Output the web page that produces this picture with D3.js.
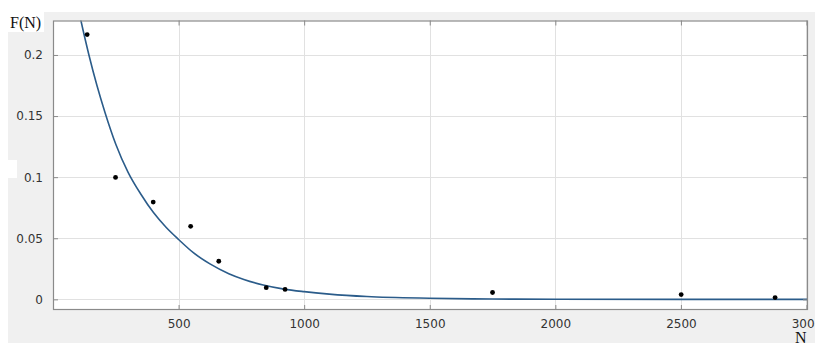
<!DOCTYPE html>
<html>
<head>
<meta charset="utf-8">
<script src="https://cdn.jsdelivr.net/npm/d3@7"></script>
<style>
	html, body { margin: 0; padding: 0; background: #fff; }
	svg { display: block; }
</style>
</head>
<body>
<div id="container"></div>
<script>
// measured points (N, F(N))
const pointN = [136, 249, 399, 548, 660, 849, 924, 1750, 2501, 2875];
const pointF = [0.2167, 0.0998, 0.0796, 0.0598, 0.0312, 0.0096, 0.0081, 0.0056, 0.0039, 0.0015];

// fitted curve
const curveN = [95, 120, 143, 175, 207, 250, 299, 350, 400, 450, 500, 560, 625, 700, 760, 837, 920, 1000, 1100, 1250, 1500, 1750, 2000, 2500, 3006];
const curveF = [0.243, 0.220, 0.200, 0.175, 0.153, 0.127, 0.104, 0.086, 0.071, 0.059, 0.049, 0.038, 0.029, 0.021, 0.0163, 0.0118, 0.0084, 0.0063, 0.0043, 0.0023, 0.0009, 0.0003, 0.0001, 0.0, 0.0];

const xTicks = [500, 1000, 1500, 2000, 2500, 3000];
const xTickLabels = ["500", "1000", "1500", "2000", "2500", "3000"];
const yTicks = [0, 0.05, 0.1, 0.15, 0.2];
const yTickLabels = ["0", "0.05", "0.1", "0.15", "0.2"];

class FitChart {
	constructor(width, height) {
		this.width = width;
		this.height = height;
		this.box = { left: 53, right: 808, top: 20.5, bottom: 310 };
	}

	init() {
		this.svg = d3
			.select("#container")
			.append("svg")
			.attr("width", this.width)
			.attr("height", this.height);

		// figure background
		this.svg
			.append("rect")
			.attr("x", 8)
			.attr("y", 12)
			.attr("width", this.width - 8)
			.attr("height", this.height - 12)
			.attr("fill", "#f0f0f0");

		// white patches from the scan
		this.svg.append("rect").attr("x", 8).attr("y", 12).attr("width", 36).attr("height", 20).attr("fill", "#fff");
		this.svg.append("rect").attr("x", 8).attr("y", 160).attr("width", 9).attr("height", 18).attr("fill", "#fff");

		this.x = d3.scaleLinear().domain([0, 3006]).range([this.box.left, this.box.right]);
		this.y = d3.scaleLinear().domain([-0.0087, 0.2282]).range([this.box.bottom, this.box.top]);

		this.svg
			.append("rect")
			.attr("x", this.box.left)
			.attr("y", this.box.top)
			.attr("width", this.box.right - this.box.left)
			.attr("height", this.box.bottom - this.box.top)
			.attr("fill", "#fff");

		this.svg
			.append("defs")
			.append("clipPath")
			.attr("id", "plotClip")
			.append("rect")
			.attr("x", this.box.left)
			.attr("y", this.box.top)
			.attr("width", this.box.right - this.box.left)
			.attr("height", this.box.bottom - this.box.top);
	}

	drawGrid() {
		const g = this.svg.append("g").attr("stroke", "#e1e1e1").attr("stroke-width", 1);
		g.selectAll(".gx")
			.data(xTicks)
			.join("line")
			.attr("x1", (d) => Math.round(this.x(d)) + 0.5)
			.attr("x2", (d) => Math.round(this.x(d)) + 0.5)
			.attr("y1", this.box.top)
			.attr("y2", this.box.bottom);
		g.selectAll(".gy")
			.data(yTicks)
			.join("line")
			.attr("y1", (d) => Math.round(this.y(d)) + 0.5)
			.attr("y2", (d) => Math.round(this.y(d)) + 0.5)
			.attr("x1", this.box.left)
			.attr("x2", this.box.right);
	}

	drawAxes() {
		const font = "DejaVu Sans, Verdana, sans-serif";
		const h = this.box.bottom - this.box.top;
		const w = this.box.right - this.box.left;

		// bottom + top, ticks pointing inward
		const xb = this.svg
			.append("g")
			.attr("transform", `translate(0,${this.box.bottom})`)
			.call(
				d3
					.axisBottom(this.x)
					.tickValues(xTicks)
					.tickSizeInner(-5)
					.tickSizeOuter(0)
					.tickPadding(9)
					.tickFormat((d, i) => xTickLabels[i])
			);
		const xt = this.svg
			.append("g")
			.attr("transform", `translate(0,${this.box.top})`)
			.call(d3.axisTop(this.x).tickValues(xTicks).tickSizeInner(-5).tickSizeOuter(0).tickFormat(""));

		const yl = this.svg
			.append("g")
			.attr("transform", `translate(${this.box.left},0)`)
			.call(
				d3
					.axisLeft(this.y)
					.tickValues(yTicks)
					.tickSizeInner(-5)
					.tickSizeOuter(0)
					.tickPadding(10)
					.tickFormat((d, i) => yTickLabels[i])
			);
		const yr = this.svg
			.append("g")
			.attr("transform", `translate(${this.box.right},0)`)
			.call(d3.axisRight(this.y).tickValues(yTicks).tickSizeInner(-5).tickSizeOuter(0).tickFormat(""));

		[xb, xt, yl, yr].forEach((a) => {
			a.select(".domain").remove();
			a.selectAll("line").attr("stroke", "#8a8a8a");
			a.selectAll("text").attr("fill", "#333").style("font-family", font).style("font-size", "12px");
		});

		// box
		this.svg
			.append("rect")
			.attr("x", this.box.left + 0.5)
			.attr("y", this.box.top + 0.5)
			.attr("width", w - 1)
			.attr("height", h - 1)
			.attr("fill", "none")
			.attr("stroke", "#8a8a8a")
			.attr("stroke-width", 1.2);

		// axis titles
		this.svg
			.append("text")
			.attr("x", 10)
			.attr("y", 28)
			.style("font-family", "Liberation Serif, Times New Roman, serif")
			.style("font-size", "16px")
			.attr("fill", "#111")
			.text("F(N)");
		this.svg
			.append("text")
			.attr("x", 795)
			.attr("y", 343)
			.style("font-family", "Liberation Serif, Times New Roman, serif")
			.style("font-size", "16px")
			.attr("fill", "#111")
			.text("N");
	}

	drawData() {
		const curve = curveN.map((n, i) => [n, curveF[i]]);
		const line = d3
			.line()
			.x((d) => this.x(d[0]))
			.y((d) => this.y(d[1]))
			.curve(d3.curveMonotoneX);

		this.svg
			.append("path")
			.attr("clip-path", "url(#plotClip)")
			.attr("d", line(curve))
			.attr("fill", "none")
			.attr("stroke", "#2b5c8a")
			.attr("stroke-width", 1.6);

		this.svg
			.append("g")
			.selectAll("circle")
			.data(pointN.map((n, i) => [n, pointF[i]]))
			.join("circle")
			.attr("cx", (d) => this.x(d[0]))
			.attr("cy", (d) => this.y(d[1]))
			.attr("r", 2.4)
			.attr("fill", "#000");
	}
}

const chart = new FitChart(815, 343);
chart.init();
chart.drawGrid();
chart.drawData();
chart.drawAxes();
</script>
</body>
</html>
